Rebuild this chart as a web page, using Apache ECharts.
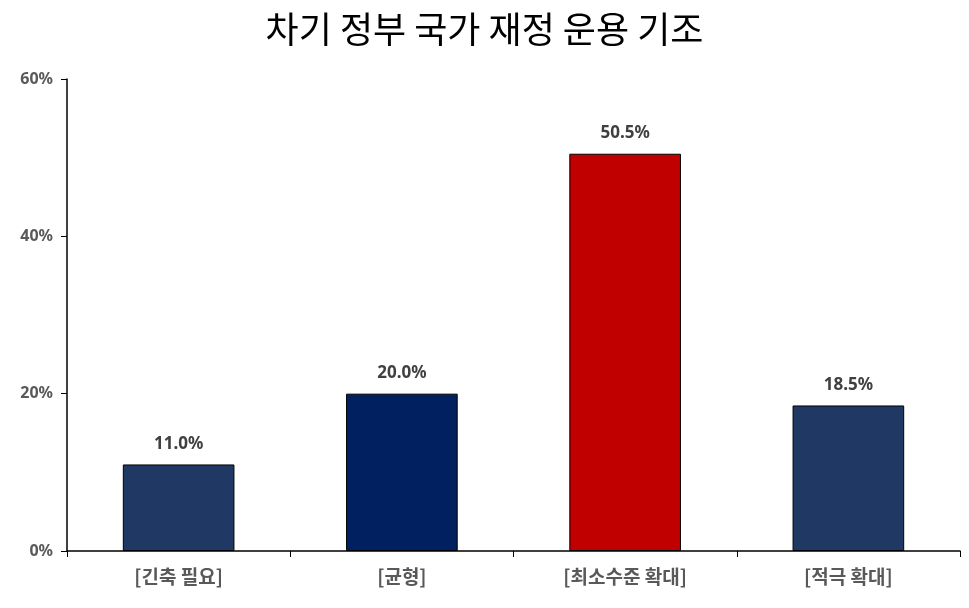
<!DOCTYPE html>
<html><head><meta charset="utf-8">
<script src="https://cdn.jsdelivr.net/npm/echarts@6/dist/echarts.min.js"></script>
<style>html,body{margin:0;padding:0;background:#fff}#c{width:969px;height:608px}</style>
</head><body><div id="c"></div>
<script>
const categories = ['[긴축 필요]', '[균형]', '[최소수준 확대]', '[적극 확대]'];
const values = [11.0, 20.0, 50.5, 18.5];
const barColors = ['#1F3864', '#002060', '#C00000', '#203864'];
const yTicks = [0, 20, 40, 60];

const chart = echarts.init(document.getElementById('c'));
chart.setOption({
  animation: false,
  title: { text: '차기 정부 국가 재정 운용 기조', left: 'center', top: 6,
    textStyle: { fontFamily: 'Noto Sans CJK KR', fontSize: 36, fontWeight: 'normal', color: '#000' } },
  grid: { left: 67, right: 9, top: 79, bottom: 57 },
  xAxis: { type: 'category', data: categories,
    axisLine: { lineStyle: { color: '#000', width: 1.5 } },
    axisTick: { show: true, alignWithLabel: false, length: 6, lineStyle: { color: '#000' } },
    axisLabel: { color: '#595959', fontSize: 19, fontWeight: 'bold', fontFamily: 'Noto Sans CJK KR', margin: 16 } },
  yAxis: { type: 'value', min: 0, max: 60, interval: 20,
    axisLine: { show: true, lineStyle: { color: '#000', width: 1.5 } },
    axisTick: { show: true, length: 6, lineStyle: { color: '#000' } },
    splitLine: { show: false },
    axisLabel: { color: '#595959', fontSize: 16, fontWeight: 'bold', fontFamily: 'Noto Sans', margin: 14,
      formatter: v => yTicks.includes(v) ? v + '%' : '' } },
  series: [{ type: 'bar', barWidth: '50%',
    data: values.map((v, i) => ({ value: v, itemStyle: { color: barColors[i], borderColor: '#000', borderWidth: 1 } })),
    label: { show: true, position: 'top', distance: 12, color: '#404040', fontSize: 17, fontWeight: 'bold', fontFamily: 'Noto Sans',
      formatter: p => p.value.toFixed(1) + '%' } }]
});
</script></body></html>
